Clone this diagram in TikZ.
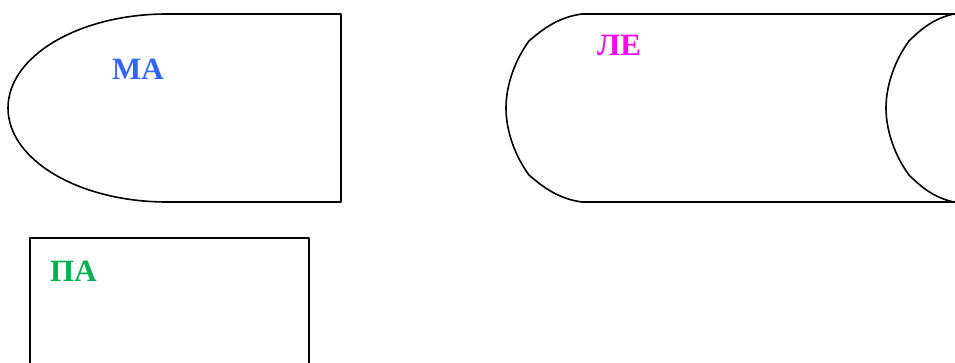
\documentclass[tikz,border=0pt]{standalone}
\usepackage{fontspec}
\setmainfont{Liberation Serif}
\definecolor{mablue}{HTML}{3366FF}
\definecolor{legreen}{HTML}{00B050}
\definecolor{lemag}{HTML}{FF00FF}
\begin{document}
\begin{tikzpicture}[x=1pt,y=-1pt,
  outline/.style={draw=black,line width=1.6pt,line join=round},
  lbl/.style={font=\fontsize{31}{36}\selectfont\bfseries,inner sep=0pt,anchor=base west}]
\useasboundingbox (0,0) rectangle (955,363);
\clip (0,0) rectangle (955,363);
% MA shape
\draw[outline] (341,14) -- (167,14) arc[start angle=90,end angle=270,x radius=159,y radius=-94] -- (341,202) -- cycle;
% LE shape
\draw[outline] (582,14) .. controls (560,17) and (545,27) .. (529,41)
  .. controls (515,60) and (506,85) .. (506,108)
  .. controls (506,131) and (515,156) .. (529,175)
  .. controls (545,189) and (560,199) .. (582,202)
  -- (1000,202);
\draw[outline] (1000,14) -- (582,14);
\draw[outline] (954,14) .. controls (935,18) and (922,28) .. (909,41)
  .. controls (895,60) and (886,85) .. (886,108)
  .. controls (886,131) and (895,156) .. (909,175)
  .. controls (922,188) and (935,198) .. (954,202);
% PA shape
\draw[outline] (30,380) -- (30,238) -- (309,238) -- (309,380);
\node[lbl,text=mablue] (ma) at (112,80) {МА};
\node[lbl,text=lemag] (le) at (597,56) {ЛЕ};
\node[lbl,text=legreen] (pa) at (50,281) {ПА};
\end{tikzpicture}
\end{document}
